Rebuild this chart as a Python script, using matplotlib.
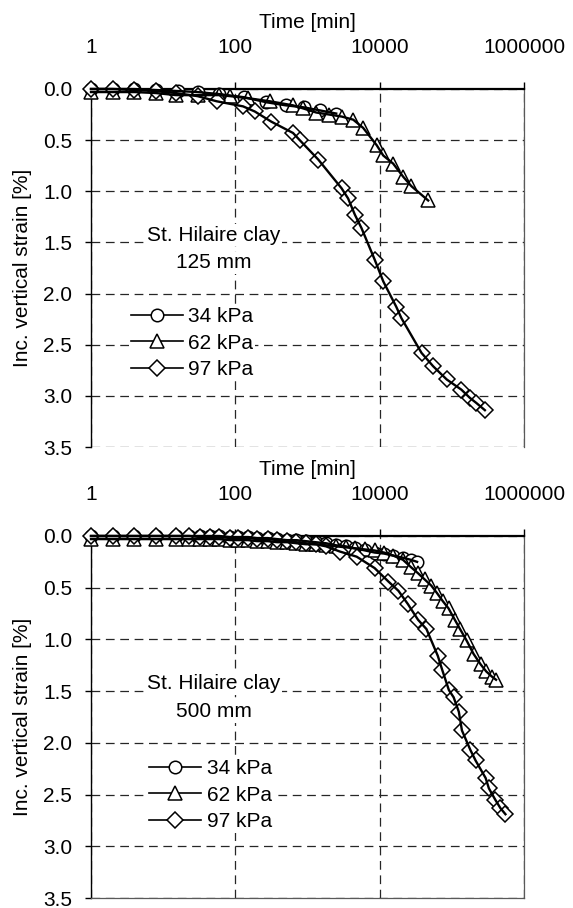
import numpy as np
import matplotlib.pyplot as plt
from matplotlib.lines import Line2D
from matplotlib.ticker import NullLocator

plt.rcParams['font.family'] = ['Liberation Sans', 'DejaVu Sans']
plt.rcParams['font.size'] = 15

#125 mm specimen
t125_34 = [1, 2, 4, 8, 16, 30, 60, 130, 270, 500, 900, 1500, 2500]
s125_34 = [0.0, 0.0, 0.0, 0.01, 0.02, 0.03, 0.05, 0.08, 0.13, 0.16, 0.18, 0.21, 0.24]

t125_62 = [1, 2, 4, 8, 15, 30, 60, 85, 150, 300, 630, 870, 1320, 2000, 3000, 4300,
           5900, 9100, 11200, 15400, 21300, 27500, 47000]
s125_62 = [0.03, 0.03, 0.03, 0.04, 0.06, 0.06, 0.06, 0.07, 0.09, 0.12, 0.16, 0.19, 0.23,
           0.25, 0.27, 0.30, 0.38, 0.55, 0.65, 0.73, 0.86, 0.95, 1.09]

t125_97 = [1, 2, 4, 8, 15, 30, 55, 128, 186, 316, 630, 780, 1410, 2960, 3650, 4540, 5600,
           8550, 11200, 17000, 20000, 38000, 55000, 85000, 136000, 178000, 219000, 287000]
s125_97 = [0.0, 0.0, 0.01, 0.02, 0.04, 0.07, 0.12, 0.17, 0.22, 0.32, 0.43, 0.50, 0.69, 0.97,
           1.07, 1.23, 1.36, 1.67, 1.88, 2.13, 2.24, 2.58, 2.71, 2.84, 2.94, 3.02, 3.07, 3.14]

#500 mm specimen
t500_34 = [1, 2, 4, 8, 15, 23, 32, 45, 60, 85, 110, 150, 200, 280, 380, 520, 700, 950, 1300,
           1800, 2500, 3400, 4600, 6300, 8500, 11500, 15500, 21000, 27000, 33000]
s500_34 = [0, 0, 0, 0, 0, 0, 0, 0, 0, 0.01, 0.01, 0.01, 0.02, 0.02, 0.03, 0.04, 0.04, 0.05,
           0.06, 0.07, 0.09, 0.10, 0.12, 0.14, 0.16, 0.17, 0.19, 0.21, 0.23, 0.25]

t500_62 = [1, 2, 4, 8, 15, 23, 32, 45, 60, 85, 110, 150, 200, 280, 380, 520, 700, 950, 1300,
           1800, 2500, 3400, 4600, 6300, 8500, 11500, 15500, 21000, 27000, 34000, 42000, 52000,
           62000, 75000, 90000, 110000, 130000, 160000, 200000, 250000, 300000, 360000, 410000]
s500_62 = [0.03, 0.03, 0.03, 0.03, 0.03, 0.03, 0.03, 0.03, 0.03, 0.04, 0.04, 0.04, 0.05, 0.05,
           0.06, 0.06, 0.07, 0.08, 0.08, 0.09, 0.10, 0.11, 0.12, 0.13, 0.14, 0.16, 0.19, 0.23,
           0.30, 0.36, 0.42, 0.48, 0.55, 0.63, 0.70, 0.81, 0.90, 1.01, 1.14, 1.24, 1.31, 1.36, 1.39]

t500_97 = [1, 2, 4, 8, 15, 23, 32, 45, 60, 85, 110, 150, 200, 280, 380, 520, 700, 950, 1300,
           1800, 2800, 4800, 8500, 13200, 18200, 24700, 34000, 44500, 64000, 74000, 91000,
           106000, 125000, 138000, 181000, 213000, 294000, 326000, 400000, 470000, 553000]
s500_97 = [0, 0, 0, 0, 0, 0, 0.01, 0.01, 0.01, 0.02, 0.02, 0.02, 0.03, 0.03, 0.04, 0.05, 0.06,
           0.07, 0.08, 0.10, 0.15, 0.20, 0.31, 0.44, 0.53, 0.66, 0.81, 0.90, 1.16, 1.30, 1.49,
           1.56, 1.70, 1.88, 2.07, 2.17, 2.34, 2.44, 2.55, 2.63, 2.69]

loadLabels = ['34 kPa', '62 kPa', '97 kPa']
markers = ['o', '^', 'D']
markerSizes = [9, 10, 8]

xTicks = [1, 100, 10000, 1000000]
xTickLabels = ['1', '100', '10000', '1000000']
yTicks = [0.0, 0.5, 1.0, 1.5, 2.0, 2.5, 3.0, 3.5]


def setupAxis(ax, bottomSpine):
    ax.set_xscale('log')
    ax.set_xlim(1, 1e6)
    ax.set_ylim(3.5, 0)
    ax.xaxis.tick_top()
    ax.xaxis.set_label_position('top')
    ax.set_xticks(xTicks)
    ax.set_xticklabels(xTickLabels)
    ax.xaxis.set_minor_locator(NullLocator())
    ax.set_yticks(yTicks)
    ax.set_yticklabels([f'{v:.1f}' for v in yTicks])
    ax.tick_params(axis='x', direction='out', length=5, width=1, pad=18)
    ax.tick_params(axis='y', direction='out', length=4.5, width=1, pad=9)
    ax.set_xlabel('Time [min]', labelpad=7)
    ax.set_ylabel('Inc. vertical strain [%]', labelpad=8)

    ax.set_axisbelow(True)
    ax.grid(True, color='0.15', lw=0.9, linestyle=(0, (7, 4.5)))

    ax.spines['top'].set_linewidth(1.6)
    ax.spines['left'].set_linewidth(1.0)
    ax.spines['right'].set_color('0.35')
    ax.spines['right'].set_linewidth(0.9)
    if bottomSpine:
        ax.spines['bottom'].set_color('0.35')
        ax.spines['bottom'].set_linewidth(0.9)
    else:
        ax.spines['bottom'].set_visible(False)


def plotSeries(ax, times, strains):
    for t, s, m, ms in zip(times, strains, markers, markerSizes):
        ax.plot(t, s, linestyle='none', marker=m, ms=ms, mfc='white', mec='black',
                mew=1.1, zorder=3, clip_on=False)
        ax.plot(t, s, color='black', lw=1.7, zorder=4, clip_on=False)


def addLabels(ax, sizeText, legendPos):
    ax.text(50, 1.43, 'St. Hilaire clay', ha='center', va='center', zorder=5,
            bbox=dict(fc='white', ec='none', pad=1))
    ax.text(50, 1.70, sizeText, ha='center', va='center', zorder=5,
            bbox=dict(fc='white', ec='none', pad=1))

    handles = [Line2D([], [], color='black', lw=1.2, marker=m, ms=ms, mfc='white',
                      mec='black', mew=1.1) for m, ms in zip(markers, markerSizes)]
    leg = ax.legend(handles, loadLabels, loc='upper left', bbox_to_anchor=legendPos,
                    frameon=True, framealpha=1, facecolor='white', edgecolor='none',
                    handlelength=2.5, handletextpad=0.25, labelspacing=0.37,
                    borderpad=0.1, borderaxespad=0)
    leg.set_zorder(5)


fig = plt.figure(figsize=(5.73, 9.08), dpi=100)
axTop = fig.add_axes([0.1588, 0.5077, 0.7557, 0.3943])
axBot = fig.add_axes([0.1588, 0.0110, 0.7557, 0.3987])

setupAxis(axTop, False)
plotSeries(axTop, [t125_34, t125_62, t125_97], [s125_34, s125_62, s125_97])
addLabels(axTop, '125 mm', (0.087, 0.397))

setupAxis(axBot, True)
plotSeries(axBot, [t500_34, t500_62, t500_97], [s500_34, s500_62, s500_97])
addLabels(axBot, '500 mm', (0.13, 0.39))

fig.savefig('out.png', dpi=100)
